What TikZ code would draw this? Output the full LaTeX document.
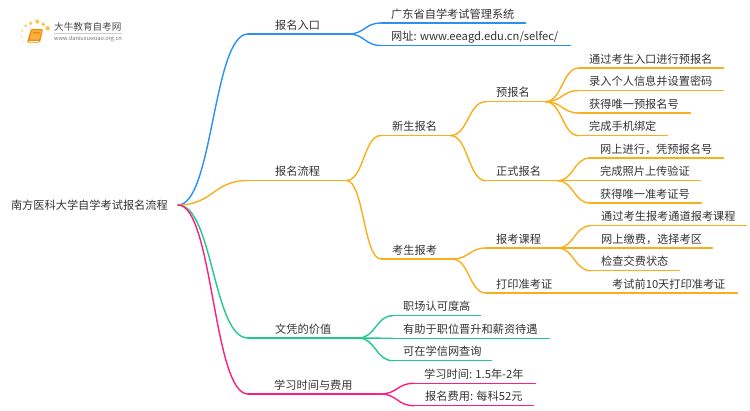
\documentclass[tikz,border=0pt]{standalone}
\usepackage{fontspec}
\setmainfont{Noto Sans CJK SC}
\usetikzlibrary{calc}
\definecolor{cblue}{HTML}{2A8FF7}
\definecolor{corange}{HTML}{F9AE1B}
\definecolor{cgreen}{HTML}{21C98A}
\definecolor{cpink}{HTML}{FB1F80}
\definecolor{ctext}{HTML}{333333}
\definecolor{cdot}{HTML}{FBC04A}
\definecolor{cbook}{HTML}{F28A0C}
\definecolor{cbooklight}{HTML}{FBB03B}
\tikzset{
  conn/.style={line width=1.4pt,line cap=round},
  lbl/.style={anchor=south west,inner sep=0pt,text height=11pt,text depth=4.7pt,font=\fontsize{11.2pt}{13pt}\selectfont,text=ctext},
  rootlbl/.style={anchor=east,inner xsep=10pt,inner ysep=2pt,font=\fontsize{11.2pt}{13pt}\selectfont,text=ctext},
  logotext/.style={anchor=west,inner sep=0pt,text=black!70},
  sundot/.style={fill=#1,draw=none}
}
% name, start x, end x, y of the underline, text indent, text, colour
\newcommand\mapnode[7]{%
  \pgfmathsetlengthmacro\mw{#3-#2}%
  \node[lbl] (#1) at (#2,#4) {\makebox[\mw][l]{\hspace*{#5pt}#6}};
  \draw[conn,#7] (#1.south west) -- (#1.south east);
}
\newcommand\linkto[3]{%
  \coordinate (mm) at ($(#1)!.5!(#2)$);
  \draw[conn,#3] (#1) .. controls (mm |- #1) and (mm |- #2) .. (#2);
}
\begin{document}
\begin{tikzpicture}[x=1pt,y=-1pt]
\useasboundingbox (0,0) rectangle (750,410);
% logo
\foreach \px/\py/\r/\o in {22.3/30.7/1.3/.6,25.7/25.7/1.6/.8,30.7/23.3/1.9/.9,37.3/21.7/2/1,43.3/24.3/1.9/1,47.7/28.3/2.2/1,21.7/36.7/1.2/.45,22.7/42/1.1/.3}
  \fill[sundot={cdot},opacity=\o] (\px,\py) circle (\r);
\fill[cbook,rounded corners=1pt] (31,29) -- (43,29) -- (40,42.5) -- (27,42.5) -- cycle;
\fill[cbooklight,rounded corners=.8pt] (32,30) -- (41.8,30) -- (39.2,39.5) -- (29.6,39.5) -- cycle;
\fill[cbook] (33,32) -- (40.2,32) -- (39.8,33.6) -- (32.6,33.6) -- cycle;
\draw[white,line width=.5pt] (28.6,40.8) -- (39,40.8);
\node[logotext,font=\fontsize{9.6pt}{11pt}\selectfont] (logoa) at (54,27) {大牛教育自考网};
\node[logotext,font=\fontsize{5.6pt}{7pt}\selectfont,text=black!55] (logob) at (54,38.5) {www.daniuxuexiao.org.cn};
\draw[black!20,line width=.5pt] (logoa.south west) ++(0,1.5) -- ++(68,0);

\node[rootlbl] (root) at (178,205) {南方医科大学自学考试报名流程};

% level 1
\mapnode{a}{248}{348}{34}{27}{报名入口}{cblue}
\mapnode{b}{248}{346}{180.5}{27}{报名流程}{corange}
\mapnode{c}{248}{358}{338}{27}{文凭的价值}{cgreen}
\mapnode{d}{248}{380}{394}{26}{学习时间与费用}{cpink}

% entrance
\mapnode{a1}{381}{525}{23}{10}{广东省自学考试管理系统}{cblue}
\mapnode{a2}{381}{570}{45.5}{10}{网址: www.eeagd.edu.cn/selfec/}{cblue}
\linkto{a.south east}{a1.south west}{cblue}
\linkto{a.south east}{a2.south west}{cblue}

% process
\mapnode{b1}{381}{450}{135.5}{11}{新生报名}{corange}
\mapnode{b2}{381}{452}{259}{11}{考生报考}{corange}
\linkto{b.south east}{b1.south west}{corange}
\linkto{b.south east}{b2.south west}{corange}

\mapnode{p}{486}{545}{101.7}{10}{预报名}{corange}
\mapnode{q}{486}{557}{180.7}{10}{正式报名}{corange}
\mapnode{r}{486}{557}{248}{10}{报考课程}{corange}
\mapnode{s}{486}{562}{293}{10}{打印准考证}{corange}
\linkto{b1.south east}{p.south west}{corange}
\linkto{b1.south east}{q.south west}{corange}
\linkto{b2.south east}{r.south west}{corange}
\linkto{b2.south east}{s.south west}{corange}

\mapnode{p1}{579}{723}{68}{10}{通过考生入口进行预报名}{corange}
\mapnode{p2}{579}{723}{90.5}{10}{录入个人信息并设置密码}{corange}
\mapnode{p3}{579}{690}{113}{10}{获得唯一预报名号}{corange}
\mapnode{p4}{579}{667}{135.7}{10}{完成手机绑定}{corange}
\linkto{p.south east}{p1.south west}{corange}
\linkto{p.south east}{p2.south west}{corange}
\linkto{p.south east}{p3.south west}{corange}
\linkto{p.south east}{p4.south west}{corange}

\mapnode{q1}{590}{723}{158}{10}{网上进行，凭预报名号}{corange}
\mapnode{q2}{590}{700}{180.7}{10}{完成照片上传验证}{corange}
\mapnode{q3}{590}{701}{203}{10}{获得唯一准考证号}{corange}
\linkto{q.south east}{q1.south west}{corange}
\linkto{q.south east}{q2.south west}{corange}
\linkto{q.south east}{q3.south west}{corange}

\mapnode{r1}{591}{746}{225.7}{10}{通过考生报考通道报考课程}{corange}
\mapnode{r2}{591}{712}{248}{10}{网上缴费，选择考区}{corange}
\mapnode{r3}{591}{679}{270.7}{10}{检查交费状态}{corange}
\linkto{r.south east}{r1.south west}{corange}
\linkto{r.south east}{r2.south west}{corange}
\linkto{r.south east}{r3.south west}{corange}

\mapnode{s1}{562}{737}{293}{50}{考试前10天打印准考证}{corange}
\draw[conn,corange] (s.south east) -- (s1.south west);

% value
\mapnode{c1}{393}{480}{315.7}{10}{职场认可度高}{cgreen}
\mapnode{c2}{393}{549}{338.3}{10}{有助于职位晋升和薪资待遇}{cgreen}
\mapnode{c3}{393}{491}{360.7}{10}{可在学信网查询}{cgreen}
\linkto{c.south east}{c1.south west}{cgreen}
\linkto{c.south east}{c2.south west}{cgreen}
\linkto{c.south east}{c3.south west}{cgreen}

% time and cost
\mapnode{d1}{414}{535}{383.3}{10}{学习时间: 1.5年-2年}{cpink}
\mapnode{d2}{414}{533}{405.7}{11}{报名费用: 每科52元}{cpink}
\linkto{d.south east}{d1.south west}{cpink}
\linkto{d.south east}{d2.south west}{cpink}

% root links
\linkto{root.east}{a.south west}{cblue}
\linkto{root.east}{b.south west}{corange}
\linkto{root.east}{c.south west}{cgreen}
\linkto{root.east}{d.south west}{cpink}
\end{tikzpicture}
\end{document}
